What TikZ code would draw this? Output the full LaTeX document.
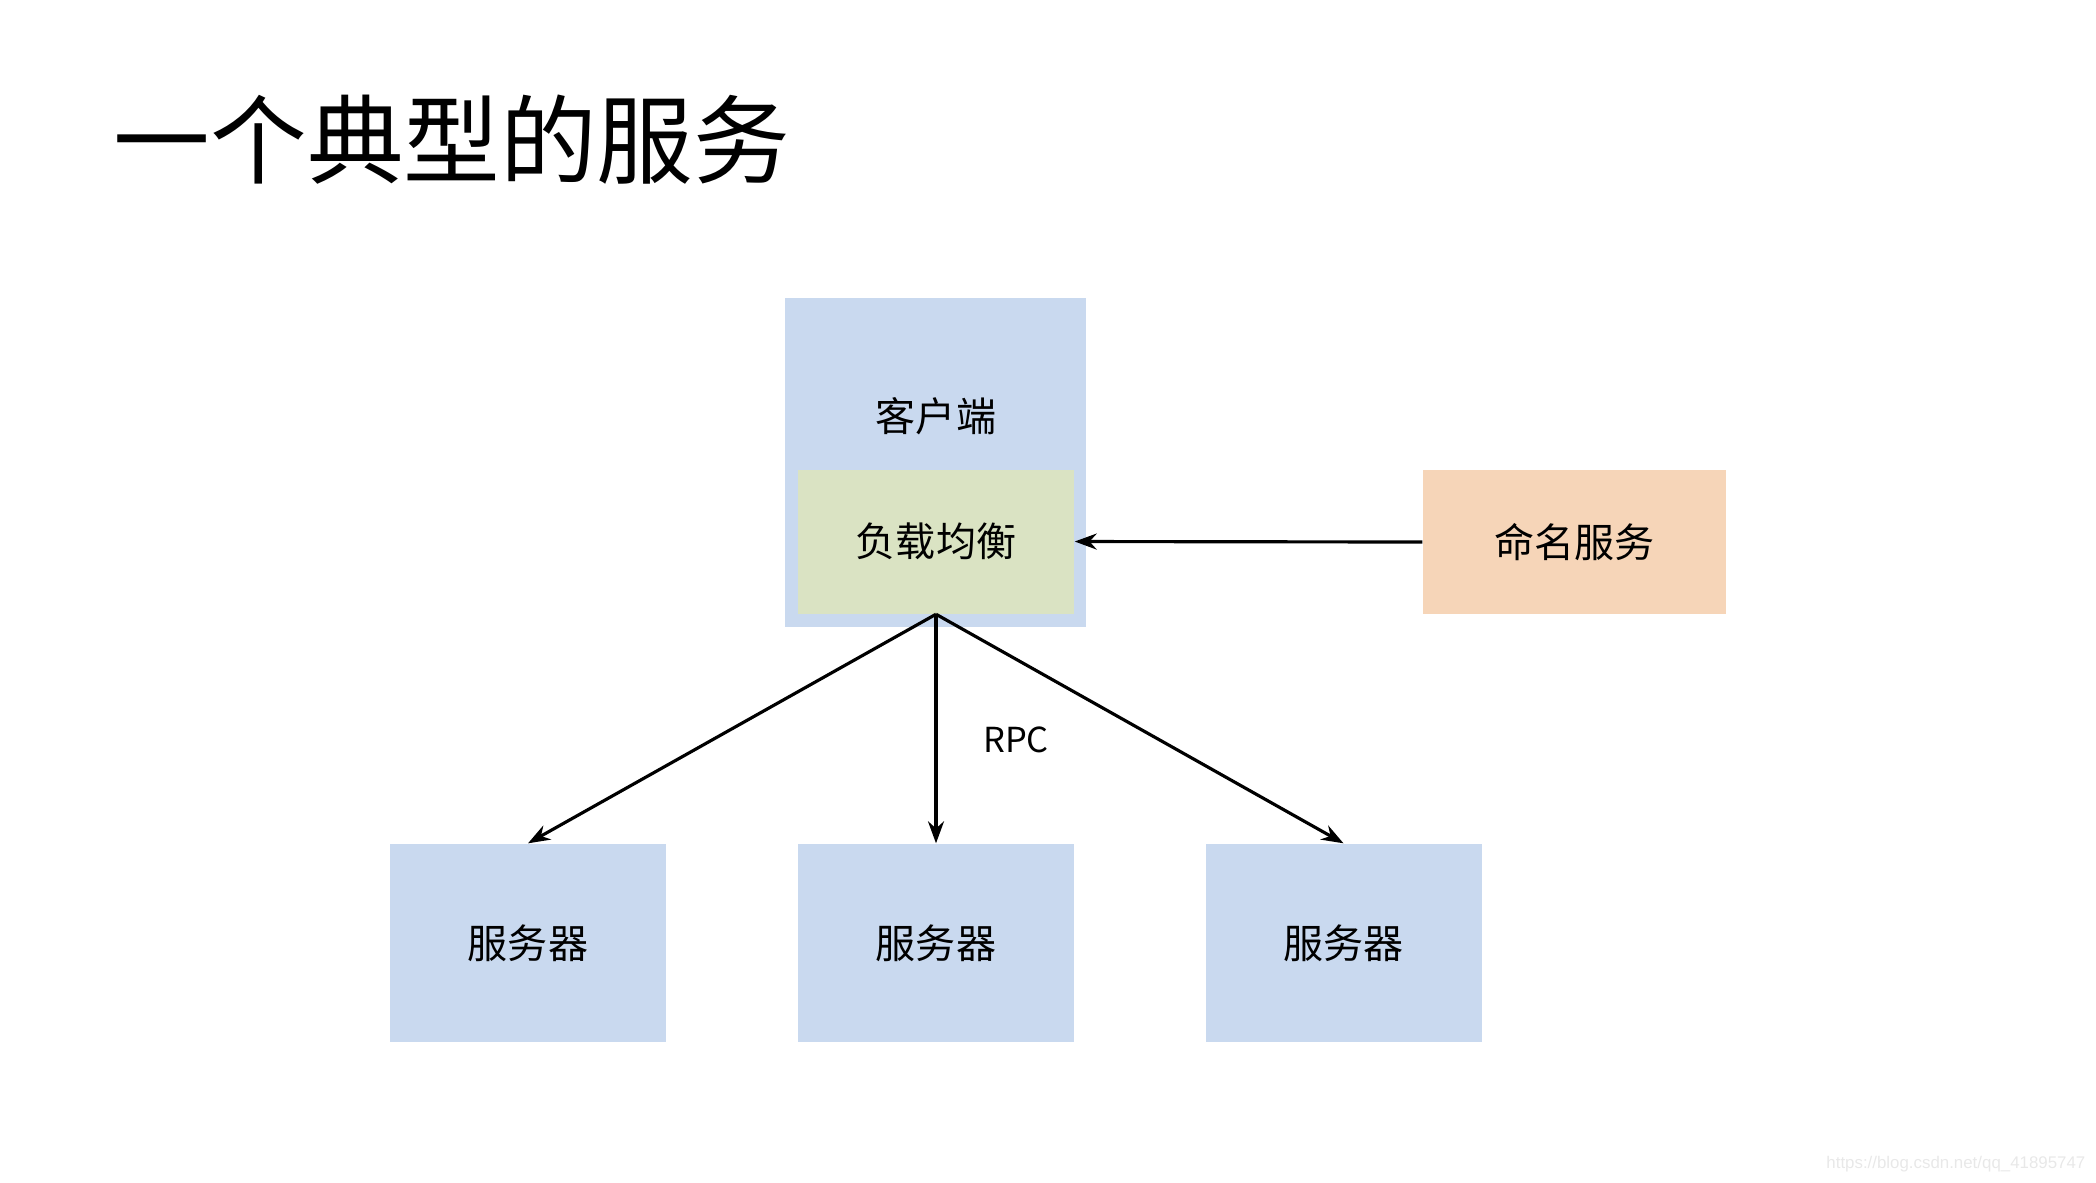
\documentclass[tikz,border=0pt]{standalone}
\usepackage{fontspec}
\setmainfont{Noto Sans CJK SC}
\newfontfamily\markfont{Liberation Sans}
\usepackage{tikz}
\usetikzlibrary{arrows.meta}

\definecolor{boxblue}{HTML}{C9D9EF}
\definecolor{boxgreen}{HTML}{DAE3C3}
\definecolor{boxorange}{HTML}{F6D5B8}

\begin{document}
\begin{tikzpicture}[box/.style={rectangle, inner sep=0pt, minimum width=2.76cm},
	txt/.style={font=\fontsize{11.4pt}{13pt}\selectfont},
	arr/.style={-{Stealth[length=2.2mm,width=1.6mm]}, line width=0.9pt}]

	\useasboundingbox (0,0) rectangle (20.96,-11.82);

	\node (title) at (4.52,-1.40) {\fontsize{27.5pt}{32pt}\selectfont 一个典型的服务};

	\node (client)[box, fill=boxblue, minimum width=3.01cm, minimum height=3.29cm] at (9.355,-4.625) {};
	\node (clienttxt)[txt] at (9.36,-4.16) {客户端};
	\node (lb)[box, fill=boxgreen, minimum height=1.44cm, txt] at (9.36,-5.415) {负载均衡};
	\node (naming)[box, fill=boxorange, minimum width=3.03cm, minimum height=1.44cm, txt] at (15.745,-5.42) {命名服务};

	\node (s1)[box, fill=boxblue, minimum height=1.98cm, txt] at (5.28,-9.43) {服务器};
	\node (s2)[box, fill=boxblue, minimum height=1.98cm, txt] at (9.36,-9.43) {服务器};
	\node (s3)[box, fill=boxblue, minimum height=1.98cm, txt] at (13.435,-9.43) {服务器};

	\node (rpc)[font=\fontsize{9.8pt}{12pt}\selectfont] at (10.16,-7.40) {RPC};

	\draw [arr] (naming.west) -- (lb.east);
	\draw [arr] (lb.south) -- (s1.north);
	\draw [arr] (lb.south) -- (s2.north);
	\draw [arr] (lb.south) -- (s3.north);

	\node (mark)[gray!18, anchor=east, inner sep=0pt, font=\markfont\fontsize{4.8pt}{6pt}\selectfont] at (20.86,-11.64) {https://blog.csdn.net/qq\_41895747};

\end{tikzpicture}
\end{document}
